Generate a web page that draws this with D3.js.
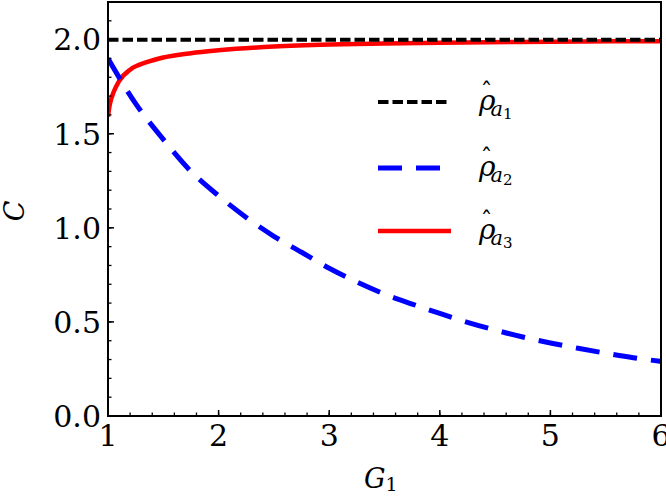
<!DOCTYPE html>
<html>
<head>
<meta charset="utf-8">
<script src="https://cdn.jsdelivr.net/npm/d3@7"></script>
<style>
body { margin: 0; background: #fff; }
</style>
</head>
<body>
<div id="chart"></div>
<script>
// values
var xTicks = [1, 2, 3, 4, 5, 6];
var yTicks = [0.0, 0.5, 1.0, 1.5, 2.0];
var yTickLabels = ['0.0', '0.5', '1.0', '1.5', '2.0'];

var rhoA1X = [1, 6];
var rhoA1Y = [2.0, 2.0];

var rhoA2X = [1.0, 1.25, 1.5, 1.75, 2.0, 2.25, 2.5, 2.75, 3.0, 3.25, 3.5, 3.75, 4.0, 4.25, 4.5, 4.75, 5.0, 5.25, 5.5, 5.75, 6.0];
var rhoA2Y = [1.90, 1.66, 1.47, 1.30, 1.17, 1.055, 0.955, 0.87, 0.785, 0.712, 0.648, 0.595, 0.545, 0.498, 0.457, 0.42, 0.388, 0.36, 0.334, 0.31, 0.29];

var rhoA3X = [1.0, 1.01, 1.02, 1.05, 1.1, 1.2, 1.35, 1.5, 1.75, 2.0, 2.5, 3.0, 3.5, 4.0, 5.0, 6.0];
var rhoA3Y = [1.59, 1.635, 1.665, 1.72, 1.78, 1.84, 1.88, 1.905, 1.928, 1.943, 1.963, 1.974, 1.980, 1.984, 1.989, 1.992];

var legendSubs = ['1', '2', '3'];

var width = 666;
var height = 496;
var margin = { left: 108, right: 5, top: 2, bottom: 80 };
var plotW = width - margin.left - margin.right;
var plotH = height - margin.top - margin.bottom;
var serif = '"DejaVu Serif", serif';

var x = d3.scaleLinear().domain([1, 6]).range([0, plotW]);
var y = d3.scaleLinear().domain([0, 2.2]).range([plotH, 0]);

var svg = d3.select('#chart').append('svg')
  .attr('width', width).attr('height', height)
  .style('font-family', serif);
var g = svg.append('g').attr('transform', 'translate(' + margin.left + ',' + margin.top + ')');

g.append('clipPath').attr('id', 'clip')
  .append('rect').attr('width', plotW).attr('height', plotH);

function pairs(xs, ys) {
  return xs.map(function(v, i) { return [v, ys[i]]; });
}

var line = d3.line()
  .x(function(d) { return x(d[0]); })
  .y(function(d) { return y(d[1]); })
  .curve(d3.curveMonotoneX);

var curves = g.append('g').attr('clip-path', 'url(#clip)');

curves.append('path')
  .datum(pairs(rhoA3X, rhoA3Y))
  .attr('d', line)
  .attr('fill', 'none')
  .attr('stroke', '#ff0000')
  .attr('stroke-width', 4.5);

curves.append('path')
  .datum(pairs(rhoA2X, rhoA2Y))
  .attr('d', line)
  .attr('fill', 'none')
  .attr('stroke', '#0000ff')
  .attr('stroke-width', 5)
  .attr('stroke-dasharray', '24,14');

curves.append('path')
  .datum(pairs(rhoA1X, rhoA1Y))
  .attr('d', line)
  .attr('fill', 'none')
  .attr('stroke', '#000')
  .attr('stroke-width', 4)
  .attr('stroke-dasharray', '10.5,4');

// ticks, pointing inward
var xMinor = d3.range(1, 6.001, 0.2);
var yMinor = d3.range(0, 2.2001, 0.1);

g.selectAll('.xminor').data(xMinor).enter().append('line')
  .attr('x1', function(d) { return x(d); }).attr('x2', function(d) { return x(d); })
  .attr('y1', plotH).attr('y2', plotH - 3.5)
  .attr('stroke', '#000').attr('stroke-width', 1.3);

g.selectAll('.yminor').data(yMinor).enter().append('line')
  .attr('y1', function(d) { return y(d); }).attr('y2', function(d) { return y(d); })
  .attr('x1', 0).attr('x2', 3.5)
  .attr('stroke', '#000').attr('stroke-width', 1.3);

g.selectAll('.xmajor').data(xTicks).enter().append('line')
  .attr('x1', function(d) { return x(d); }).attr('x2', function(d) { return x(d); })
  .attr('y1', plotH).attr('y2', plotH - 6)
  .attr('stroke', '#000').attr('stroke-width', 1.5);

g.selectAll('.ymajor').data(yTicks).enter().append('line')
  .attr('y1', function(d) { return y(d); }).attr('y2', function(d) { return y(d); })
  .attr('x1', 0).attr('x2', 6)
  .attr('stroke', '#000').attr('stroke-width', 1.5);

g.append('rect')
  .attr('width', plotW).attr('height', plotH)
  .attr('fill', 'none').attr('stroke', '#000').attr('stroke-width', 2);

g.selectAll('.xlab').data(xTicks).enter().append('text')
  .attr('x', function(d) { return x(d); })
  .attr('y', plotH + 30)
  .attr('text-anchor', 'middle')
  .style('font-size', '30px')
  .text(function(d) { return d; });

g.selectAll('.ylab').data(yTicks).enter().append('text')
  .attr('x', -7)
  .attr('y', function(d) { return y(d); })
  .attr('dy', '0.36em')
  .attr('text-anchor', 'end')
  .style('font-size', '30px')
  .text(function(d, i) { return yTickLabels[i]; });

// axis titles
var xt = svg.append('text')
  .attr('x', 364).attr('y', 488)
  .style('font-size', '27px').style('font-style', 'italic')
  .text('G');
xt.append('tspan').attr('dy', 3).style('font-size', '19px').style('font-style', 'normal').text('1');

svg.append('text')
  .attr('transform', 'translate(24,211) rotate(-90)')
  .attr('text-anchor', 'middle')
  .style('font-size', '27px').style('font-style', 'italic')
  .text('C');

// legend
var legendStyles = [
  { color: '#000', width: 4, dash: '10.5,4', len: 70 },
  { color: '#0000ff', width: 5, dash: '24,14', len: 63 },
  { color: '#ff0000', width: 4.5, dash: null, len: 73 }
];
var legendY = [102, 168, 231];

legendSubs.forEach(function(sub, i) {
  var st = legendStyles[i];
  svg.append('line')
    .attr('x1', 378).attr('x2', 378 + st.len)
    .attr('y1', legendY[i]).attr('y2', legendY[i])
    .attr('stroke', st.color).attr('stroke-width', st.width)
    .attr('stroke-dasharray', st.dash);
  var t = svg.append('text')
    .attr('x', 479).attr('y', legendY[i] + 8)
    .style('font-size', '28px').style('font-style', 'italic');
  t.append('tspan').text('\u03c1');
  t.append('tspan').attr('dx', -15).attr('dy', -10).style('font-style', 'normal').style('font-size', '24px').text('\u02c6');
  t.append('tspan').attr('dx', -2).attr('dy', 16).style('font-size', '21px').text('a');
  t.append('tspan').attr('dy', 3).style('font-size', '15px').style('font-style', 'normal').text(sub);
});
</script>
</body>
</html>
